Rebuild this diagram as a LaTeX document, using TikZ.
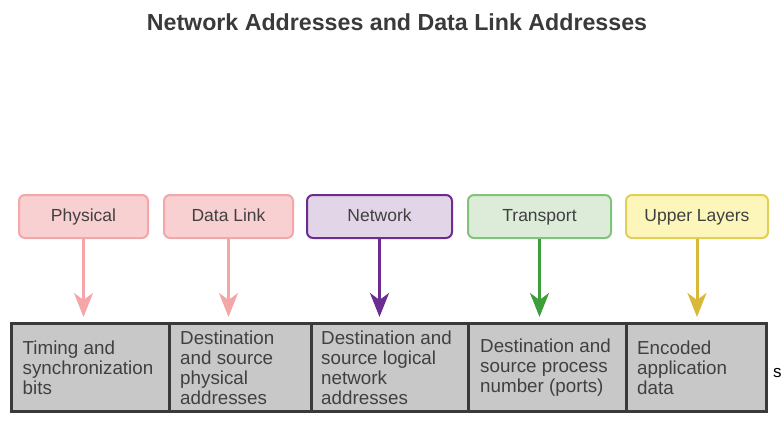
\documentclass[tikz,border=0pt]{standalone}
\usepackage{fontspec}
\setmainfont{Liberation Sans}
\usetikzlibrary{positioning}
\usetikzlibrary{arrows.meta}

\definecolor{testo}{HTML}{404040}
\definecolor{rosa}{HTML}{F9D0D2}
\definecolor{rosabordo}{HTML}{F4A6A8}
\definecolor{viola}{HTML}{E1D5E7}
\definecolor{violabordo}{HTML}{6B2D90}
\definecolor{verde}{HTML}{DCECD8}
\definecolor{verdebordo}{HTML}{80C47A}
\definecolor{verdefreccia}{HTML}{3E9F3A}
\definecolor{giallo}{HTML}{FDF6BB}
\definecolor{giallobordo}{HTML}{E3CF55}
\definecolor{giallofreccia}{HTML}{D8B838}
\definecolor{grigio}{HTML}{C8C8C8}
\definecolor{grigiobordo}{HTML}{3A3A3A}

\begin{document}
\begin{tikzpicture}[x=1pt, y=-1pt,
  strato/.style = {draw, line width=2pt, rounded corners=6pt, minimum height=43pt,
                   text height=14pt, text depth=3.6pt,
                   text=testo, font=\fontsize{17.5}{20}\selectfont},
  freccia/.style = {line width=3pt, shorten >=6.5pt,
                    -{Stealth[length=24pt, width=19pt, inset=7pt]}},
  cella/.style = {draw=grigiobordo, fill=grigio, line width=3pt, outer sep=0pt,
                  minimum height=88pt},
  testocella/.style = {align=left, inner sep=0pt, text=testo,
                       font=\fontsize{18.8}{20}\selectfont}]
  % Area del disegno
  \useasboundingbox (0,0) rectangle (782,423);

  % Titolo
  \node[font=\bfseries\fontsize{23.2}{26}\selectfont, text=grigiobordo] (titolo) at (397,22)
    {Network Addresses and Data Link Addresses};

  % Strati (riquadri in alto)
  \node[strato, fill=rosa, draw=rosabordo, minimum width=129pt] (fisico) at (83.5,216.5) {Physical};
  \node[strato, fill=rosa, draw=rosabordo, minimum width=129pt, right=14pt of fisico] (datalink) {Data Link};
  \node[strato, fill=viola, draw=violabordo, minimum width=145pt, right=12pt of datalink] (rete) {Network};
  \node[strato, fill=verde, draw=verdebordo, minimum width=143pt, right=14pt of rete] (trasporto) {Transport};
  \node[strato, fill=giallo, draw=giallobordo, minimum width=142pt, right=13pt of trasporto] (superiori) {Upper Layers};

  % Celle della trama (riga in basso)
  \node[cella, minimum width=157.5pt] (c1) at (90.25,367.5) {};
  \node[cella, minimum width=142pt, right=0pt of c1] (c2) {};
  \node[cella, minimum width=157pt, right=0pt of c2] (c3) {};
  \node[cella, minimum width=158pt, right=0pt of c3] (c4) {};
  \node[cella, minimum width=140.5pt, right=0pt of c4] (c5) {};

  % Testi delle celle
  \node[testocella, right=11pt of c1.west] (t1) {Timing and\\synchronization\\bits};
  \node[testocella, right=11pt of c2.west] (t2) {Destination\\and source\\physical\\addresses};
  \node[testocella, right=10pt of c3.west] (t3) {Destination and\\source logical\\network\\addresses};
  \node[testocella, right=12pt of c4.west] (t4) {Destination and\\source process\\number (ports)};
  \node[testocella, right=11pt of c5.west] (t5) {Encoded\\application\\data};

  % Frecce
  \draw[freccia, rosabordo] (fisico.south) -- (fisico.south |- c1.north);
  \draw[freccia, rosabordo] (datalink.south) -- (datalink.south |- c2.north);
  \draw[freccia, violabordo] (rete.south) -- (rete.south |- c3.north);
  \draw[freccia, verdefreccia] (trasporto.south) -- (trasporto.south |- c4.north);
  \draw[freccia, giallofreccia] (superiori.south) -- (superiori.south |- c5.north);

  % Lettera sul bordo destro
  \node[anchor=base west, inner sep=0pt, text=black, font=\fontsize{17}{20}\selectfont] (resto) at (773,377) {s};
\end{tikzpicture}
\end{document}
